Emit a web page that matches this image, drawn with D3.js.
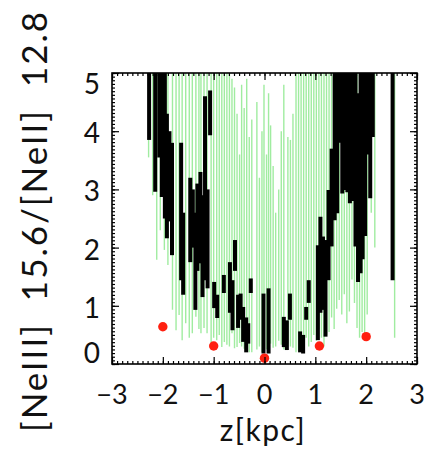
<!DOCTYPE html>
<html>
<head>
<meta charset="utf-8">
<script src="https://cdn.jsdelivr.net/npm/d3@7"></script>
<style>
  body { margin: 0; background: #fff; }
  text { font-family: Lato, "Open Sans", sans-serif; fill: #111; }
</style>
</head>
<body>
<script>
const width = 425,
      height = 454;

// thin green ranges: z [kpc], lower / upper ratio
const greenZ    = [-2.28, -2.20, -2.12, -2.05, -1.97, -1.90, -1.81, -1.74, -1.68, -1.62, -1.55, -1.48, -1.42, -1.35, -1.29, -1.25, -1.19, -1.13, -1.05, -1.00,
                   -0.94, -0.89, -0.84, -0.79, -0.74, -0.69, -0.64, -0.59, -0.54, -0.49, -0.45, -0.40, -0.35, -0.30, -0.25, -0.15, -0.10, -0.05, -0.01, 0.04,
                   0.08, 0.12, 0.17, 0.22, 0.28, 0.33, 0.38, 0.46, 0.51, 0.56, 0.62, 0.67, 0.72, 0.77, 0.82, 0.87, 0.92, 0.97, 1.02, 1.07,
                   1.12, 1.17, 1.22, 1.27, 1.32, 1.37, 1.42, 1.47, 1.52, 1.57, 1.62, 1.67, 1.72, 1.77, 1.82, 1.87, 1.92, 1.97, 2.02, 2.10, 2.17, 2.56];
const greenLow  = [3.55, 2.90, 1.79, 2.30, 1.96, 1.70, 0.93, 0.58, 0.84, 0.41, 0.70, 0.45, 0.53, 0.81, 0.60, 0.53, 0.62, 0.53, 0.36, 0.45,
                   0.41, 0.50, 0.29, 0.38, 0.33, 0.30, 0.53, 0.27, 0.29, 0.36, 0.30, 0.26, 0.22, 0.20, 0.20, 0.25, 0.30, 0.20, 0.22, 0.25,
                   0.20, 0.35, 0.28, 0.30, 0.40, 0.33, 0.25, 0.35, 0.30, 0.28, 0.20, 0.22, 0.30, 0.25, 0.45, 0.30, 0.38, 0.50, 0.40, 0.60,
                   0.45, 0.30, 0.50, 0.55, 0.80, 0.60, 0.95, 1.10, 0.85, 1.20, 0.70, 0.90, 1.45, 1.05, 0.62, 0.45, 0.55, 0.50, 0.85, 2.60, 2.00, 0.45];
const greenHigh = [6, 6, 6, 6, 6, 6, 6, 6, 6, 6, 6, 6, 6, 6, 6, 6, 6, 6, 6, 6,
                   6, 6, 6, 6, 6, 5.4, 4.9, 4.75, 4.3, 3.6, 4.8, 4.4, 4.9, 3.9, 4.2, 4.5, 3.2, 4.0, 4.8, 3.6,
                   4.65, 4.1, 3.4, 2.6, 3.0, 4.0, 4.8, 3.9, 3.85, 4.3, 5.2, 6, 6, 6, 6, 6, 6, 6, 6, 6,
                   6, 6, 6, 6, 6, 6, 6, 6, 6, 6, 6, 6, 6, 6, 6, 6, 6, 6, 6, 6, 6, 6];

// thick black ranges
const blackZ    = [-2.27, -2.15, -2.07, -2.02, -1.96, -1.92, -1.87, -1.82, -1.64, -1.60, -1.46, -1.41, -1.36, -1.32, -1.26, -1.22, -1.17, -1.12, -1.07, -0.99,
                   -0.93, -0.80, -0.68, -0.63, -0.58, -0.52, -0.47, -0.42, -0.36, -0.32, -0.27, -0.02, 0.08, 0.38, 0.44, 0.50, 0.70, 0.76, 0.82, 0.87,
                   1.05, 1.10, 1.15, 1.20, 1.26, 1.32, 1.38, 1.43, 1.48, 1.53, 1.58, 1.63, 1.68, 1.74, 1.79, 1.84, 1.89, 1.93, 1.98, 2.03, 2.08, 2.13, 2.52];
const blackLow  = [3.85, 2.96, 3.55, 2.87, 2.50, 2.16, 2.45, 1.87, 1.44, 1.19, 1.75, 2.00, 0.93, 1.60, 1.73, 1.15, 1.44, 1.30, 3.93, 0.96,
                   0.79, 1.22, 0.88, 0.58, 1.60, 0.62, 0.76, 0.38, 0.20, 0.35, 1.22, 0.18, 0.18, 0.29, 0.24, 0.76, 0.20, 0.18, 0.76, 1.05,
                   0.41, 0.88, 0.93, 0.47, 1.44, 2.02, 2.47, 2.59, 3.80, 2.93, 2.99, 2.95, 2.76, 2.80, 2.02, 1.41, 1.56, 1.80, 2.20, 3.60, 2.85, 3.90, 1.44];
const blackHigh = [6, 6, 6, 6, 5.0, 4.3, 4.0, 3.8, 3.8, 2.6, 3.2, 3.0, 2.6, 3.1, 3.3, 2.9, 4.6, 3.0, 4.7, 1.41,
                   1.19, 1.53, 1.75, 1.44, 2.13, 1.19, 1.21, 0.98, 0.80, 0.70, 1.47, 1.21, 1.30, 0.81, 0.75, 1.21, 0.56, 0.50, 0.98, 1.44,
                   2.04, 2.53, 2.19, 2.13, 2.99, 3.7, 6, 6, 6, 6, 6, 6, 6, 6, 6, 4.65, 6, 6, 6, 6, 6, 6, 6];

// red points
const dotZ     = [-2, -1, 0, 1.08, 2];
const dotRatio = [0.64, 0.31, 0.10, 0.31, 0.47];

const xTicks = [-3, -2, -1, 0, 1, 2, 3];
const yTicks = [0, 1, 2, 3, 4, 5];

const margin = {left: 112, right: 8, top: 73, bottom: 90};

const x = d3.scaleLinear()
    .domain([-3, 3])
    .range([margin.left, width - margin.right]);
const y = d3.scaleLinear()
    .domain([0, 5])
    .range([height - margin.bottom, margin.top]);

const svg = d3.select('body').append('svg')
    .attr('width', width)
    .attr('height', height);

svg.append('rect')
    .attr('width', width)
    .attr('height', height)
    .attr('fill', '#fff');

svg.append('clipPath')
    .attr('id', 'frame')
  .append('rect')
    .attr('x', x(-3))
    .attr('y', y(5))
    .attr('width', x(3) - x(-3))
    .attr('height', y(0) - y(5));

const plot = svg.append('g').attr('clip-path', 'url(#frame)');

plot.selectAll('line.green')
    .data(greenZ)
    .enter()
    .append('line')
    .attr('class', 'green')
    .attr('x1', d => x(d))
    .attr('x2', d => x(d))
    .attr('y1', (d, i) => y(greenLow[i]))
    .attr('y2', (d, i) => y(greenHigh[i]))
    .attr('stroke', '#a0eca0')
    .attr('stroke-width', 1.4);

plot.selectAll('line.black')
    .data(blackZ)
    .enter()
    .append('line')
    .attr('class', 'black')
    .attr('x1', d => x(d))
    .attr('x2', d => x(d))
    .attr('y1', (d, i) => y(blackLow[i]))
    .attr('y2', (d, i) => y(blackHigh[i]))
    .attr('stroke', '#000')
    .attr('stroke-width', 4);

svg.selectAll('circle')
    .data(dotZ)
    .enter()
    .append('circle')
    .attr('cx', d => x(d))
    .attr('cy', (d, i) => y(dotRatio[i]))
    .attr('r', 4.7)
    .attr('fill', '#ff2010');

// axes: ticks point inward on all four sides
const minorX = d3.range(-3, 3.001, 0.1),
      minorY = d3.range(0, 5.001, 1 / 16);

function ticks(axis, scale, vals, len, shift) {
  svg.append('g')
      .attr('transform', shift)
      .call(axis(scale).tickValues(vals).tickSize(len).tickFormat(''))
      .call(g => g.select('.domain').remove())
      .selectAll('line').attr('stroke', '#000').attr('stroke-width', 1.2);
}
const atBottom = `translate(0,${y(0)})`, atTop = `translate(0,${y(5)})`,
      atLeft = `translate(${x(-3)},0)`, atRight = `translate(${x(3)},0)`;
ticks(d3.axisBottom, x, minorX, -3, atBottom);
ticks(d3.axisBottom, x, xTicks, -7, atBottom);
ticks(d3.axisTop, x, minorX, -3, atTop);
ticks(d3.axisTop, x, xTicks, -7, atTop);
ticks(d3.axisLeft, y, minorY, -3, atLeft);
ticks(d3.axisLeft, y, yTicks, -7, atLeft);
ticks(d3.axisRight, y, minorY, -3, atRight);
ticks(d3.axisRight, y, yTicks, -7, atRight);

svg.append('rect')
    .attr('x', x(-3))
    .attr('y', y(5))
    .attr('width', x(3) - x(-3))
    .attr('height', y(0) - y(5))
    .attr('fill', 'none')
    .attr('stroke', '#000')
    .attr('stroke-width', 1.6);

// tick labels
svg.selectAll('text.xt')
    .data(xTicks)
    .enter()
    .append('text')
    .attr('class', 'xt')
    .attr('x', d => x(d))
    .attr('y', 404)
    .attr('text-anchor', 'middle')
    .attr('font-size', 27)
    .text(d => d < 0 ? '\u2212' + Math.abs(d) : d);

svg.selectAll('text.yt')
    .data(yTicks)
    .enter()
    .append('text')
    .attr('class', 'yt')
    .attr('x', 100)
    .attr('y', d => Math.min(353, Math.max(84, y(d) + 2)))
    .attr('dy', '0.36em')
    .attr('text-anchor', 'end')
    .attr('font-size', 28)
    .text(d => d);

svg.append('text')
    .attr('x', 263)
    .attr('y', 441)
    .attr('text-anchor', 'middle')
    .attr('font-size', 30)
    .attr('letter-spacing', 1.5)
    .text('z[kpc]');

svg.append('text')
    .attr('transform', 'translate(47,221) rotate(-90)')
    .attr('text-anchor', 'middle')
    .attr('font-size', 35)
    .attr('letter-spacing', 2)
    .style('white-space', 'pre')
    .text('[NeIII]  15.6/[NeII]  12.8');
</script>
</body>
</html>
